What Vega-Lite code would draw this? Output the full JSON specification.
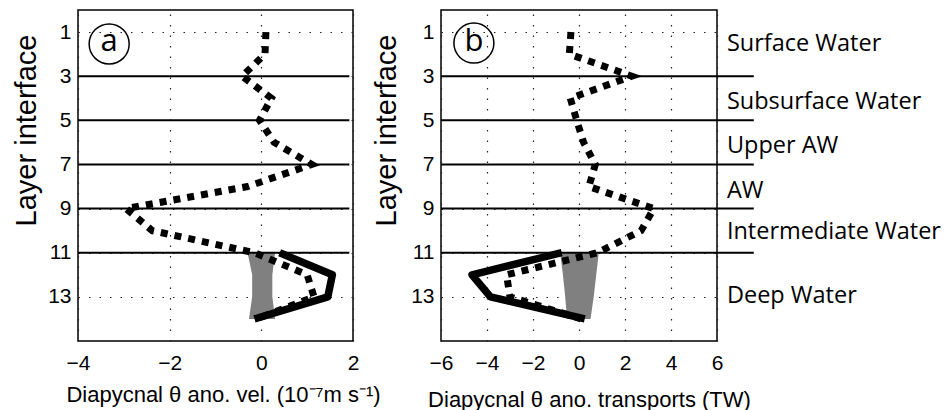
{
  "$schema": "https://vega.github.io/schema/vega-lite/v6.json",
  "background": "white",
  "padding": {"left": 11, "top": 9, "right": 4, "bottom": 0},
  "config": {
    "view": {"stroke": "black", "strokeWidth": 1.5},
    "axis": {
      "labelFont": "Liberation Sans", "labelFontSize": 21, "labelColor": "black",
      "titleFont": "Liberation Sans", "titleFontSize": 22, "titleFontWeight": "normal", "titleColor": "black",
      "domain": false, "ticks": false,
      "grid": true, "gridColor": "#222", "gridDash": [1.5, 9], "gridWidth": 1.2, "gridOpacity": 1
    }
  },
  "datasets": {
    "a_band": [
      {"y": 11, "x": -0.3, "x2": 0.3},
      {"y": 12, "x": -0.2, "x2": 0.24},
      {"y": 13, "x": -0.2, "x2": 0.24},
      {"y": 14, "x": -0.27, "x2": 0.3}
    ],
    "a_dot": [
      {"y": 1, "x": 0.1}, {"y": 2, "x": 0.08}, {"y": 3, "x": -0.42}, {"y": 4, "x": 0.22},
      {"y": 5, "x": -0.04}, {"y": 6, "x": 0.28}, {"y": 7, "x": 1.1}, {"y": 8, "x": -0.3},
      {"y": 9, "x": -2.95}, {"y": 10, "x": -2.38}, {"y": 11, "x": -0.15}, {"y": 12, "x": 1.0},
      {"y": 13, "x": 1.15}, {"y": 14, "x": -0.1}
    ],
    "a_solid": [
      {"y": 11, "x": 0.4}, {"y": 12, "x": 1.55}, {"y": 13, "x": 1.45}, {"y": 14, "x": -0.15}
    ],
    "b_band": [
      {"y": 11, "x": -0.82, "x2": 0.86},
      {"y": 12, "x": -0.7, "x2": 0.75},
      {"y": 13, "x": -0.6, "x2": 0.64},
      {"y": 14, "x": -0.52, "x2": 0.5}
    ],
    "b_dot": [
      {"y": 1, "x": -0.35}, {"y": 2, "x": -0.42}, {"y": 3, "x": 2.3}, {"y": 4, "x": -0.38},
      {"y": 5, "x": -0.1}, {"y": 6, "x": 0.2}, {"y": 7, "x": 0.71}, {"y": 8, "x": 0.43},
      {"y": 9, "x": 3.25}, {"y": 10, "x": 2.7}, {"y": 11, "x": 0.8}, {"y": 12, "x": -3.15},
      {"y": 13, "x": -3.0}, {"y": 14, "x": 0.1}
    ],
    "b_solid": [
      {"y": 11, "x": -0.75}, {"y": 12, "x": -4.65}, {"y": 13, "x": -3.85}, {"y": 14, "x": 0.25}
    ],
    "interfaces": [{"y": 3}, {"y": 5}, {"y": 7}, {"y": 9}, {"y": 11}],
    "water": [
      {"label": "Surface Water", "y": 1.86},
      {"label": "Subsurface Water", "y": 4.49},
      {"label": "Upper AW", "y": 6.48},
      {"label": "AW", "y": 8.5},
      {"label": "Intermediate Water", "y": 10.38},
      {"label": "Deep Water", "y": 13.27}
    ],
    "tag_a": [{"label": "a"}],
    "tag_b": [{"label": "b"}]
  },
  "spacing": 88,
  "bounds": "flush",
  "hconcat": [
    {
      "width": 275,
      "height": 331,
      "layer": [
        {
          "data": {"name": "a_band"},
          "mark": {"type": "area", "orient": "horizontal", "color": "#808080"},
          "encoding": {
            "y": {
              "field": "y", "type": "quantitative",
              "scale": {"domain": [0, 15], "reverse": true, "nice": false, "zero": false},
              "axis": {
                "values": [1, 3, 5, 7, 9, 11, 13], "title": "Layer interface", "titleFontSize": 29,
                "titleX": -43, "titleY": 120, "titleBaseline": "alphabetic", "titleAlign": "center",
                "labelPadding": 7
              }
            },
            "x": {
              "field": "x", "type": "quantitative",
              "scale": {"domain": [-4, 2], "nice": false, "zero": false},
              "axis": {
                "values": [-4, -2, 0, 2], "title": "Diapycnal θ ano. vel. (10⁻⁷m s⁻¹)",
                "titleX": 145, "titleY": 60, "titleBaseline": "alphabetic", "titleAlign": "center",
                "labelPadding": 11, "labelFlush": false
              }
            },
            "x2": {"field": "x2"}
          }
        },
        {
          "data": {"name": "interfaces"},
          "mark": {"type": "rule", "color": "black", "strokeWidth": 2},
          "encoding": {
            "y": {"field": "y", "type": "quantitative", "scale": {"domain": [0, 15], "reverse": true, "nice": false, "zero": false}},
            "x": {"datum": -4, "type": "quantitative", "scale": {"domain": [-4, 2], "nice": false, "zero": false}},
            "x2": {"datum": 1.92}
          }
        },
        {
          "data": {"name": "a_dot"},
          "mark": {"type": "line", "color": "black", "strokeWidth": 7, "strokeDash": [7, 7], "strokeCap": "butt"},
          "encoding": {
            "y": {"field": "y", "type": "quantitative", "scale": {"domain": [0, 15], "reverse": true, "nice": false, "zero": false}},
            "x": {"field": "x", "type": "quantitative", "scale": {"domain": [-4, 2], "nice": false, "zero": false}},
            "order": {"field": "y", "type": "quantitative"}
          }
        },
        {
          "data": {"name": "a_solid"},
          "mark": {"type": "line", "color": "black", "strokeWidth": 7.5, "strokeJoin": "round", "strokeCap": "butt"},
          "encoding": {
            "y": {"field": "y", "type": "quantitative", "scale": {"domain": [0, 15], "reverse": true, "nice": false, "zero": false}},
            "x": {"field": "x", "type": "quantitative", "scale": {"domain": [-4, 2], "nice": false, "zero": false}},
            "order": {"field": "y", "type": "quantitative"}
          }
        },
        {
          "data": {"name": "tag_a"},
          "mark": {"type": "point", "shape": "circle", "size": 1600, "filled": false, "stroke": "black", "strokeWidth": 1.5, "opacity": 1},
          "encoding": {
            "x": {"datum": -3.32, "type": "quantitative", "scale": {"domain": [-4, 2], "nice": false, "zero": false}},
            "y": {"datum": 1.54, "type": "quantitative", "scale": {"domain": [0, 15], "reverse": true, "nice": false, "zero": false}}
          }
        },
        {
          "data": {"name": "tag_a"},
          "mark": {"type": "text", "font": "Open Sans", "fontSize": 31, "align": "center", "baseline": "alphabetic", "color": "black"},
          "encoding": {
            "x": {"datum": -3.32, "type": "quantitative", "scale": {"domain": [-4, 2], "nice": false, "zero": false}},
            "y": {"datum": 1.86, "type": "quantitative", "scale": {"domain": [0, 15], "reverse": true, "nice": false, "zero": false}},
            "text": {"field": "label"}
          }
        }
      ]
    },
    {
      "width": 276,
      "height": 331,
      "layer": [
        {
          "data": {"name": "b_band"},
          "mark": {"type": "area", "orient": "horizontal", "color": "#808080"},
          "encoding": {
            "y": {
              "field": "y", "type": "quantitative",
              "scale": {"domain": [0, 15], "reverse": true, "nice": false, "zero": false},
              "axis": {
                "values": [1, 3, 5, 7, 9, 11, 13], "title": "Layer interface", "titleFontSize": 29,
                "titleX": -46, "titleY": 120, "titleBaseline": "alphabetic", "titleAlign": "center",
                "labelPadding": 7
              }
            },
            "x": {
              "field": "x", "type": "quantitative",
              "scale": {"domain": [-6, 6], "nice": false, "zero": false},
              "axis": {
                "values": [-6, -4, -2, 0, 2, 4, 6], "title": "Diapycnal θ ano. transports (TW)",
                "titleX": 148, "titleY": 65, "titleBaseline": "alphabetic", "titleAlign": "center",
                "labelPadding": 11, "labelFlush": false
              }
            },
            "x2": {"field": "x2"}
          }
        },
        {
          "data": {"name": "interfaces"},
          "mark": {"type": "rule", "color": "black", "strokeWidth": 2},
          "encoding": {
            "y": {"field": "y", "type": "quantitative", "scale": {"domain": [0, 15], "reverse": true, "nice": false, "zero": false}},
            "x": {"datum": -6, "type": "quantitative", "scale": {"domain": [-6, 6], "nice": false, "zero": false}},
            "x2": {"datum": 7.6}
          }
        },
        {
          "data": {"name": "b_dot"},
          "mark": {"type": "line", "color": "black", "strokeWidth": 7, "strokeDash": [7, 7], "strokeCap": "butt"},
          "encoding": {
            "y": {"field": "y", "type": "quantitative", "scale": {"domain": [0, 15], "reverse": true, "nice": false, "zero": false}},
            "x": {"field": "x", "type": "quantitative", "scale": {"domain": [-6, 6], "nice": false, "zero": false}},
            "order": {"field": "y", "type": "quantitative"}
          }
        },
        {
          "data": {"name": "b_solid"},
          "mark": {"type": "line", "color": "black", "strokeWidth": 7.5, "strokeJoin": "round", "strokeCap": "butt"},
          "encoding": {
            "y": {"field": "y", "type": "quantitative", "scale": {"domain": [0, 15], "reverse": true, "nice": false, "zero": false}},
            "x": {"field": "x", "type": "quantitative", "scale": {"domain": [-6, 6], "nice": false, "zero": false}},
            "order": {"field": "y", "type": "quantitative"}
          }
        },
        {
          "data": {"name": "tag_b"},
          "mark": {"type": "point", "shape": "circle", "size": 1600, "filled": false, "stroke": "black", "strokeWidth": 1.5, "opacity": 1},
          "encoding": {
            "x": {"datum": -4.57, "type": "quantitative", "scale": {"domain": [-6, 6], "nice": false, "zero": false}},
            "y": {"datum": 1.5, "type": "quantitative", "scale": {"domain": [0, 15], "reverse": true, "nice": false, "zero": false}}
          }
        },
        {
          "data": {"name": "tag_b"},
          "mark": {"type": "text", "font": "Open Sans", "fontSize": 31, "align": "center", "baseline": "alphabetic", "color": "black"},
          "encoding": {
            "x": {"datum": -4.57, "type": "quantitative", "scale": {"domain": [-6, 6], "nice": false, "zero": false}},
            "y": {"datum": 1.86, "type": "quantitative", "scale": {"domain": [0, 15], "reverse": true, "nice": false, "zero": false}},
            "text": {"field": "label"}
          }
        },
        {
          "data": {"name": "water"},
          "mark": {"type": "text", "font": "Open Sans", "fontSize": 23.5, "align": "left", "baseline": "alphabetic", "color": "black"},
          "encoding": {
            "x": {"datum": 6.43, "type": "quantitative", "scale": {"domain": [-6, 6], "nice": false, "zero": false}},
            "y": {"field": "y", "type": "quantitative", "scale": {"domain": [0, 15], "reverse": true, "nice": false, "zero": false}},
            "text": {"field": "label"}
          }
        }
      ]
    }
  ]
}
